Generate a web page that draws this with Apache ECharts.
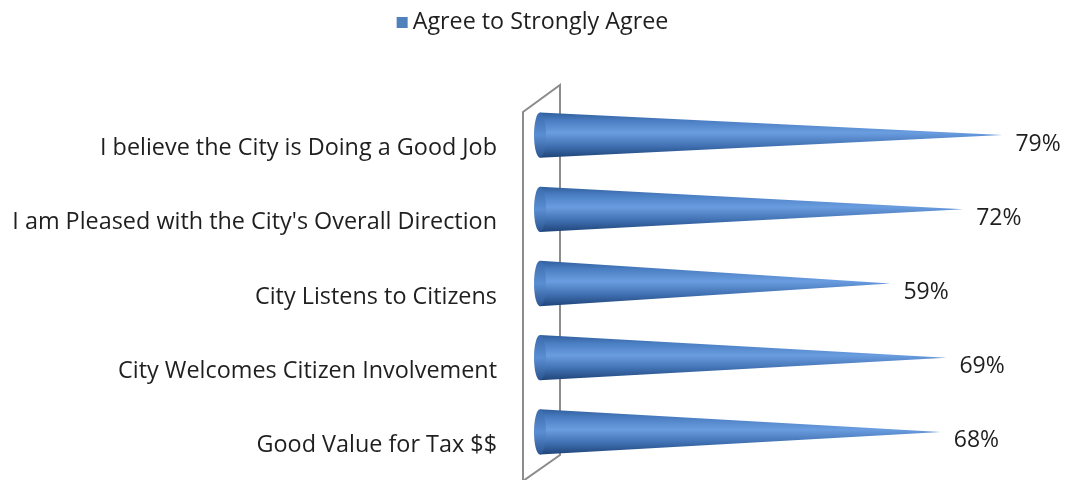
<!DOCTYPE html>
<html>
<head>
<meta charset="utf-8">
<script src="https://cdn.jsdelivr.net/npm/echarts@6/dist/echarts.min.js"></script>
<style>
  html, body { margin: 0; padding: 0; background: #ffffff; }
  #chart { width: 1065px; height: 480px; }
</style>
</head>
<body>
<div id="chart"></div>
<script>
// Survey results, listed top to bottom
const categories = [
  "I believe the City is Doing a Good Job",
  "I am Pleased with the City's Overall Direction",
  "City Listens to Citizens",
  "City Welcomes Citizen Involvement",
  "Good Value for Tax $$"
];
const agreeValues = [79, 72, 59, 69, 68];
const seriesName = "Agree to Strongly Agree";

const FONT = "'Open Sans', 'Noto Sans', sans-serif";
const TEXT = "#1f1f1f";

const coneFill = new echarts.graphic.LinearGradient(0, 0, 0, 1, [
  { offset: 0, color: "#2f5e9c" },
  { offset: 0.18, color: "#4a7ec2" },
  { offset: 0.45, color: "#6a9de0" },
  { offset: 0.75, color: "#3f6fb0" },
  { offset: 1, color: "#1f4479" }
]);
const capFill = new echarts.graphic.LinearGradient(0, 0, 0, 1, [
  { offset: 0, color: "#3a6aac" },
  { offset: 0.5, color: "#5a8ed2" },
  { offset: 1, color: "#2a548f" }
]);

// Horizontal cone: elliptical base near the wall, tip at the value
function renderCone(params, api) {
  const cs = params.coordSys;
  const tip = api.coord([api.value(0), api.value(1)]);
  const band = api.size([0, 1])[1];
  const r = band * 0.305;
  const baseX = cs.x - 20;
  const cy = tip[1];
  return {
    type: "group",
    children: [
      {
        type: "polygon",
        shape: { points: [[baseX, cy - r], [tip[0], cy], [baseX, cy + r]] },
        style: { fill: coneFill }
      },
      {
        type: "ellipse",
        shape: { cx: baseX, cy: cy, rx: 6, ry: r },
        style: { fill: capFill }
      },
      {
        type: "text",
        x: tip[0] + 13,
        y: cy + 9,
        style: {
          text: api.value(0) + "%",
          font: "23px " + FONT,
          fill: TEXT,
          verticalAlign: "middle",
          align: "left"
        }
      }
    ]
  };
}

// Side wall of the 3D plot area
function renderWall(params) {
  const cs = params.coordSys;
  const backX = cs.x;
  const frontX = cs.x - 37;
  const backTop = cs.y - 13;
  const backBottom = cs.y + cs.height - 14;
  const frontTop = cs.y + 14;
  const frontBottom = cs.y + cs.height + 12;
  return {
    type: "polyline",
    silent: true,
    shape: {
      points: [
        [frontX, frontBottom], [frontX, frontTop], [backX, backTop],
        [backX, backBottom], [frontX, frontBottom]
      ]
    },
    style: { stroke: "#8c8c8c", lineWidth: 2, fill: null }
  };
}

const chart = echarts.init(document.getElementById("chart"), null, { renderer: "canvas" });
chart.setOption({
  animation: false,
  backgroundColor: "#ffffff",
  legend: {
    data: [{ name: seriesName, icon: "rect" }],
    top: 6,
    left: "center",
    itemWidth: 11,
    itemHeight: 11,
    itemGap: 9,
    textStyle: { fontFamily: FONT, fontSize: 23.3, color: TEXT }
  },
  grid: { left: 560, right: 1, top: 98, bottom: 11, containLabel: false },
  xAxis: {
    type: "value",
    min: 0,
    max: 90,
    show: false
  },
  yAxis: {
    type: "category",
    data: categories,
    inverse: true,
    axisLine: { show: false },
    axisTick: { show: false },
    axisLabel: {
      margin: 63,
      fontFamily: FONT,
      fontSize: 23.4,
      color: TEXT,
      verticalAlign: "top",
      padding: [2, 0, 0, 0]
    }
  },
  series: [
    {
      type: "custom",
      name: "wall",
      renderItem: renderWall,
      data: [[0, 0]],
      silent: true,
      z: 1
    },
    {
      type: "custom",
      name: seriesName,
      itemStyle: { color: "#4f81bd" },
      renderItem: renderCone,
      encode: { x: 0, y: 1 },
      data: agreeValues.map((v, i) => [v, i]),
      z: 2
    }
  ]
});
</script>
</body>
</html>
